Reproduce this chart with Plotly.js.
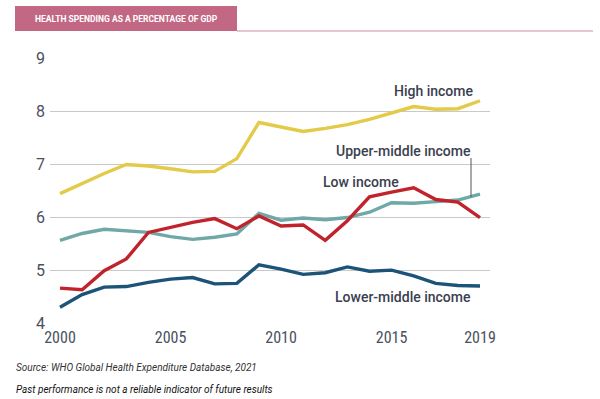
<!DOCTYPE html>
<html><head><meta charset="utf-8">
<script src="https://cdn.plot.ly/plotly-3.0.1.min.js"></script>
<style>html,body{margin:0;padding:0;background:#fff}#chart{width:600px;height:399px}</style>
</head><body><div id="chart"></div>
<script>
const years = [2000,2001,2002,2003,2004,2005,2006,2007,2008,2009,2010,2011,2012,2013,2014,2015,2016,2017,2018,2019];
const highIncome = [6.45,6.64,6.83,7.0,6.97,6.92,6.86,6.87,7.11,7.79,7.71,7.62,7.68,7.75,7.85,7.97,8.09,8.04,8.05,8.2];
const upperMiddleIncome = [5.57,5.70,5.78,5.75,5.72,5.64,5.59,5.63,5.69,6.08,5.95,5.99,5.96,6.0,6.1,6.28,6.27,6.3,6.33,6.44];
const lowIncome = [4.67,4.64,5.0,5.22,5.72,5.81,5.91,5.98,5.79,6.03,5.84,5.86,5.57,5.94,6.39,6.48,6.56,6.34,6.29,6.0];
const lowerMiddleIncome = [4.31,4.55,4.69,4.70,4.78,4.84,4.87,4.75,4.76,5.11,5.03,4.93,4.96,5.07,4.99,5.01,4.90,4.76,4.72,4.71];
const yTicks = [4,5,6,7,8,9];
const xTicks = [2000,2005,2010,2015,2019];

const L=50, R=490, T=58, B=324;
const px = x => (x-L)/(R-L);
const py = y => (B-y)/(B-T);

function tr(y, color){ return {x: years, y: y, type:'scatter', mode:'lines', line:{color:color, width:3.4}, hoverinfo:'skip'}; }
const data = [
  tr(upperMiddleIncome,'#6FA9A7'),
  tr(lowerMiddleIncome,'#1B5478'),
  tr(highIncome,'#E3CA48'),
  tr(lowIncome,'#C1232D')
];
const lab = {family:'Roboto, sans-serif', size:14, color:'#3a4050', weight:500};
function ann(x, y, text, font, xa){ return {xref:'paper', yref:'paper', x:px(x), y:py(y), xanchor:xa||'center', yanchor:'middle', text:text, showarrow:false, font:font}; }
const layout = {
  width:600, height:399, showlegend:false,
  paper_bgcolor:'#fff', plot_bgcolor:'#fff',
  margin:{l:L, r:600-R, t:T, b:399-B},
  font:{family:'Roboto, sans-serif'},
  xaxis:{range:[2000-10/22.105, 2019+10/22.105], tickvals:xTicks, ticktext:xTicks.map(String), showgrid:false, zeroline:false, showline:false,
    ticks:'', tickfont:{size:16, color:'#4a5060', family:'Roboto Condensed, Roboto, sans-serif'}, ticklabelstandoff:2},
  yaxis:{range:[3.995, 9.005], tickvals:yTicks, ticktext:yTicks.map(String), showgrid:true, gridcolor:'#c9c9c9', gridwidth:1.6, zeroline:false, showline:false,
    ticks:'', tickfont:{size:16, color:'#4a5060'}, ticklabelstandoff:4},
  shapes:[
    {type:'rect', xref:'paper', yref:'paper', x0:px(15), x1:px(237), y0:py(31), y1:py(6), fillcolor:'#C26884', line:{width:0}},
    {type:'line', xref:'paper', yref:'paper', x0:px(237), x1:px(593), y0:py(31), y1:py(31), line:{color:'#D08A9E', width:1.2}},
    {type:'line', xref:'paper', yref:'paper', x0:px(471), x1:px(471), y0:py(158), y1:py(197), line:{color:'#555', width:1}}
  ],
  annotations:[
    ann(126, 19, '<b>HEALTH SPENDING AS A PERCENTAGE OF GDP</b>', {family:'Roboto, sans-serif', size:8.5, color:'#fff'}),
    ann(434, 91, 'High income', lab),
    ann(403, 151, 'Upper-middle income', lab),
    ann(361, 182, 'Low income', lab),
    ann(403, 297, 'Lower-middle income', lab),
    ann(14, 368, '<i>Source: WHO Global Health Expenditure Database, 2021</i>', {family:'Roboto, sans-serif', size:10, color:'#333'}, 'left'),
    ann(14, 389, '<i>Past performance is not a reliable indicator of future results</i>', {family:'Roboto, sans-serif', size:10, color:'#111'}, 'left')
  ]
};
Plotly.newPlot('chart', data, layout, {displayModeBar:false, staticPlot:true});
</script></body></html>
